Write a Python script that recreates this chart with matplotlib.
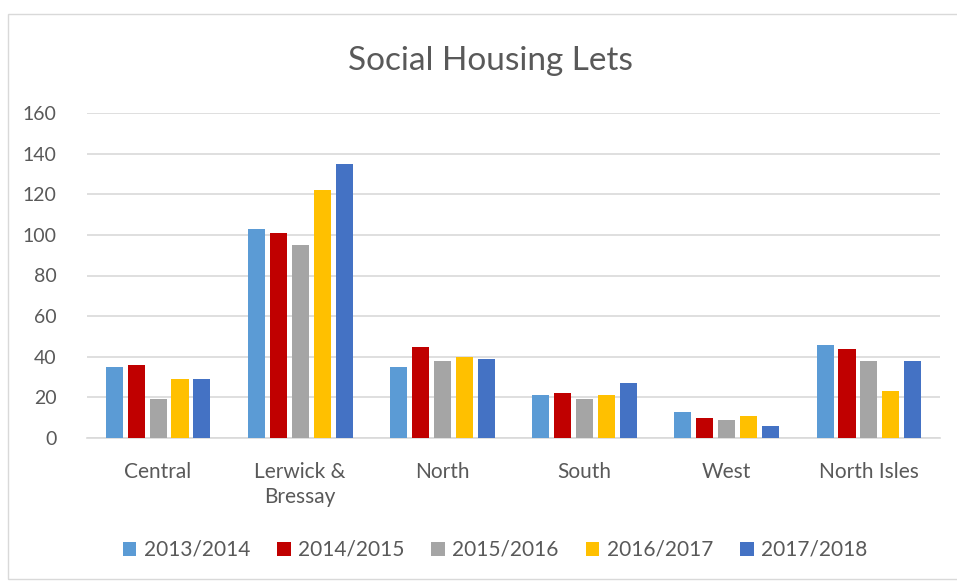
import matplotlib
matplotlib.use("Agg")
import matplotlib.pyplot as plt
import numpy as np
from matplotlib.patches import Rectangle

categories = ["Central", "Lerwick &\nBressay", "North", "South", "West", "North Isles"]
series_names = ["2013/2014", "2014/2015", "2015/2016", "2016/2017", "2017/2018"]
v2013 = [35, 103, 35, 21, 13, 46]
v2014 = [36, 101, 45, 22, 10, 44]
v2015 = [19, 95, 38, 19, 9, 38]
v2016 = [29, 122, 40, 21, 11, 23]
v2017 = [29, 135, 39, 27, 6, 38]
values = [v2013, v2014, v2015, v2016, v2017]
colors = ["#5B9BD5", "#C00000", "#A5A5A5", "#FFC000", "#4472C4"]
yticks = [0, 20, 40, 60, 80, 100, 120, 140, 160]

plt.rcParams['font.family'] = ['Lato', 'DejaVu Sans']
fig = plt.figure(figsize=(9.57, 5.81), dpi=100)
ax = fig.add_axes([87/957, 1-438/581, (940-87)/957, (438-113)/581])

x = np.arange(len(categories))
pitch = 0.154
width = 0.12
for i, (name, vals, c) in enumerate(zip(series_names, values, colors)):
    ax.bar(x + (i-2)*pitch, vals, width, color=c, label=name, zorder=3)

ax.set_xlim(-0.5, len(categories)-0.5)
ax.set_ylim(0, 160)
ax.set_yticks(yticks)
ax.set_xticks(x)
ax.set_xticklabels(categories, fontsize=15, linespacing=1.35)
ax.grid(axis='y', color='#D9D9D9', linewidth=1.2, zorder=0)
for s in ['top', 'right', 'left']:
    ax.spines[s].set_visible(False)
ax.spines['bottom'].set_color('#D9D9D9')
ax.spines['bottom'].set_linewidth(1.2)
ax.tick_params(axis='both', length=0, colors='#595959')
ax.tick_params(axis='y', labelsize=14, pad=22)
ax.tick_params(axis='x', pad=17)

fig.text(490/957, 1-61/581, "Social Housing Lets", ha='center', va='center', fontsize=24, color='#595959')

leg = fig.legend(loc='center', bbox_to_anchor=(495/957, 1-550/581), ncol=5, frameon=False,
                 fontsize=15, handlelength=0.65, handleheight=0.65, handletextpad=0.35, columnspacing=1.3)
for t in leg.get_texts():
    t.set_color('#595959')

fig.patches.append(Rectangle((8/957, 2/581), 1.2, 1-16/581, transform=fig.transFigure,
                             fill=False, edgecolor='#D9D9D9', linewidth=1))
fig.savefig("out.png", dpi=100)
